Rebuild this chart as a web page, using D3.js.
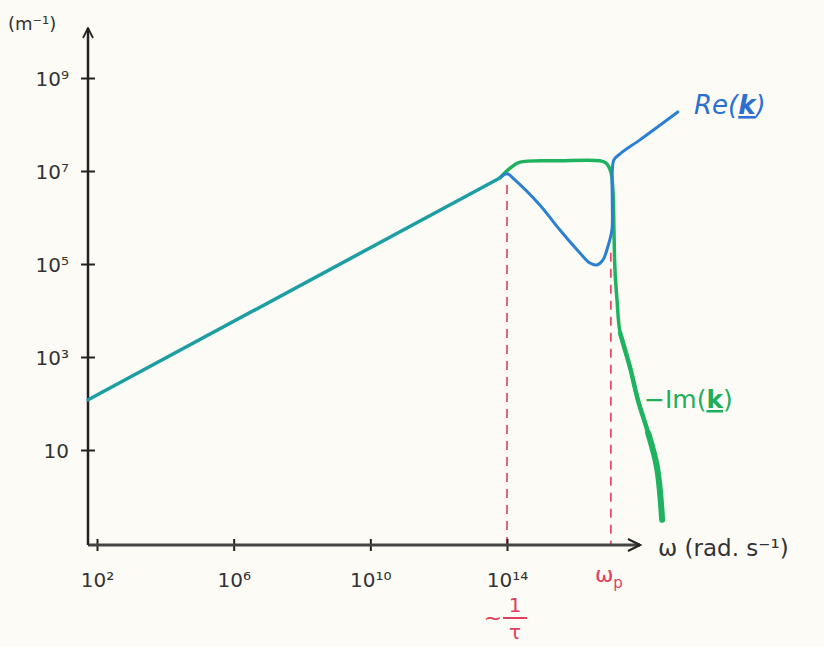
<!DOCTYPE html>
<html>
<head>
<meta charset="utf-8">
<script src="https://cdn.jsdelivr.net/npm/d3@7"></script>
<style>
  html, body { margin: 0; padding: 0; background: #fdfbf6; }
  svg { display: block; }
  text { font-family: "DejaVu Sans", sans-serif; }
</style>
</head>
<body>
<svg id="viz" width="824" height="647"></svg>
<script>
// Data: [log10(omega), log10(k)]

var shared = [[1.74, 2.08], [13.79, 6.85]];

var reK = [
	[13.79, 6.85], [14.0, 6.94], [14.23, 6.81], [14.96, 6.27], [15.55, 5.73],
	[16.13, 5.24], [16.43, 5.02], [16.63, 4.98], [16.81, 5.09], [16.95, 5.37],
	[17.07, 5.73], [17.08, 6.38], [17.08, 6.98], [17.13, 7.24], [17.31, 7.37],
	[17.89, 7.67], [19.0, 8.27]
];

var imK = [
	[13.79, 6.85], [14.09, 7.06], [14.38, 7.19], [15.55, 7.22], [16.72, 7.22],
	[16.90, 7.17], [17.04, 6.98], [17.10, 6.59], [17.13, 5.73], [17.16, 4.87],
	[17.22, 4.23], [17.31, 3.52], [17.60, 2.78], [17.83, 2.08], [18.13, 1.37],
	[18.39, 0.63], [18.54, -0.5]
];

var xTicks = [1e2, 1e6, 1e10, 1e14];
var yTicks = [1e1, 1e3, 1e5, 1e7, 1e9];

var tau = 1e14;                      // ~ 1/tau
var omegaP = Math.pow(10, 17.04);    // plasma frequency
var tauTop = 6.7, omegaPTop = 5.24;  // where the dashed guides start (log k)

var sup = {"0":"⁰","1":"¹","2":"²","3":"³","4":"⁴","5":"⁵","6":"⁶","7":"⁷","8":"⁸","9":"⁹"};
function powLabel(v) {
	var e = Math.round(Math.log10(v));
	if (e == 1) return "10";
	return "10" + String(e).split("").map(c => sup[c]).join("");
}

var svg = d3.select("#viz");

var x = d3.scaleLog().domain([1e2, 1e14]).range([97, 507]);
var y = d3.scaleLog().domain([1e1, 1e9]).range([450, 78]);

var x0 = 88, y0 = 545;        // axis corner
var xEnd = 640, yEnd = 28;    // arrow tips

var ink = "#222";
var red = "#e23d5c";
var green = "#1fb35f";

// Arrow marker

svg.append("defs").append("marker")
	.attr("id", "arrow")
	.attr("viewBox", "0 0 10 10")
	.attr("refX", 9).attr("refY", 5)
	.attr("markerWidth", 5).attr("markerHeight", 5)
	.attr("orient", "auto")
	.append("path")
	.attr("d", "M1,1 L9,5 L1,9")
	.attr("fill", "none")
	.attr("stroke", ink)
	.attr("stroke-width", 1.4);

// Dashed guides

svg.append("line")
	.attr("x1", x(tau)).attr("x2", x(tau))
	.attr("y1", y(Math.pow(10, tauTop))).attr("y2", y0)
	.attr("stroke", red).attr("stroke-width", 1.6)
	.attr("stroke-dasharray", "9,7");

svg.append("line")
	.attr("x1", x(omegaP)).attr("x2", x(omegaP))
	.attr("y1", y(Math.pow(10, omegaPTop))).attr("y2", y0)
	.attr("stroke", red).attr("stroke-width", 1.6)
	.attr("stroke-dasharray", "9,7");

// Axes

var xAxis = svg.append("g")
	.attr("transform", "translate(0," + (y0 + 6) + ")")
	.call(d3.axisBottom(x).tickValues(xTicks).tickSize(12).tickFormat(powLabel));

var yAxis = svg.append("g")
	.attr("transform", "translate(" + (x0 + 7) + ",0)")
	.call(d3.axisLeft(y).tickValues(yTicks).tickSize(14).tickFormat(powLabel));

[xAxis, yAxis].forEach(a => {
	a.select(".domain").remove();
	a.selectAll(".tick line").attr("stroke", ink).attr("stroke-width", 2);
	a.selectAll(".tick text")
		.attr("fill", "#333")
		.style("font-size", "20px");
});
xAxis.selectAll(".tick line").attr("transform", "translate(0,-12)");
xAxis.selectAll(".tick text").attr("y", 22).attr("dy", "0.71em");
yAxis.selectAll(".tick text").attr("x", -26).attr("dy", "0.35em");

svg.append("line")
	.attr("x1", x0).attr("y1", y0)
	.attr("x2", xEnd).attr("y2", y0)
	.attr("stroke", "#444").attr("stroke-width", 3)
	.attr("marker-end", "url(#arrow)");

svg.append("line")
	.attr("x1", x0).attr("y1", y0)
	.attr("x2", x0).attr("y2", yEnd)
	.attr("stroke", ink).attr("stroke-width", 2.5)
	.attr("marker-end", "url(#arrow)");

// Curves

var line = d3.line()
	.x(d => x(Math.pow(10, d[0])))
	.y(d => y(Math.pow(10, d[1])))
	.curve(d3.curveCatmullRom.alpha(0.5));

svg.append("path")
	.datum(imK)
	.attr("d", line)
	.attr("fill", "none")
	.attr("stroke", green)
	.attr("stroke-width", 3.5)
	.attr("stroke-linejoin", "round");

// the green stroke gets heavier towards its end
svg.append("path")
	.datum(imK.slice(-6))
	.attr("d", line)
	.attr("fill", "none")
	.attr("stroke", green)
	.attr("stroke-width", 4.5)
	.attr("stroke-linecap", "round");

svg.append("path")
	.datum(imK.slice(-3))
	.attr("d", line)
	.attr("fill", "none")
	.attr("stroke", green)
	.attr("stroke-width", 6)
	.attr("stroke-linecap", "round");

svg.append("path")
	.datum(reK)
	.attr("d", line)
	.attr("fill", "none")
	.attr("stroke", "#2b80d2")
	.attr("stroke-width", 3)
	.attr("stroke-linejoin", "round")
	.attr("stroke-linecap", "round");

svg.append("path")
	.datum(shared)
	.attr("d", line)
	.attr("fill", "none")
	.attr("stroke", "#1c9ea3")
	.attr("stroke-width", 3.5)
	.attr("stroke-linecap", "round");

// Labels

svg.append("text")
	.attr("x", 8).attr("y", 30)
	.attr("fill", "#333")
	.style("font-size", "18px")
	.text("(m⁻¹)");

svg.append("text")
	.attr("x", 658).attr("y", 556)
	.attr("fill", "#333")
	.style("font-size", "23px")
	.text("ω (rad. s⁻¹)");

var re = svg.append("text")
	.attr("x", 694).attr("y", 114)
	.attr("fill", "#2b6fd0")
	.style("font-size", "26px")
	.style("font-style", "italic");
re.append("tspan").text("Re(");
re.append("tspan").attr("text-decoration", "underline").style("font-weight", "bold").text("k");
re.append("tspan").text(")");

var im = svg.append("text")
	.attr("x", 644).attr("y", 408)
	.attr("fill", "#1fae5a")
	.style("font-size", "25px");
im.append("tspan").text("−Im(");
im.append("tspan").attr("text-decoration", "underline").style("font-weight", "bold").text("k");
im.append("tspan").text(")");

var wp = svg.append("text")
	.attr("x", x(omegaP) - 2).attr("y", 582)
	.attr("text-anchor", "middle")
	.attr("fill", red)
	.style("font-size", "22px");
wp.append("tspan").text("ω");
wp.append("tspan").attr("dy", 6).style("font-size", "15px").text("p");

// ~ 1/tau
var fx = x(tau) + 8;
svg.append("text")
	.attr("x", fx - 22).attr("y", 625)
	.attr("text-anchor", "middle")
	.attr("fill", red)
	.style("font-size", "22px")
	.text("~");
svg.append("text")
	.attr("x", fx).attr("y", 612)
	.attr("text-anchor", "middle")
	.attr("fill", red)
	.style("font-size", "20px")
	.text("1");
svg.append("line")
	.attr("x1", fx - 12).attr("x2", fx + 12)
	.attr("y1", 618).attr("y2", 618)
	.attr("stroke", red).attr("stroke-width", 2);
svg.append("text")
	.attr("x", fx).attr("y", 639)
	.attr("text-anchor", "middle")
	.attr("fill", red)
	.style("font-size", "20px")
	.text("τ");
</script>
</body>
</html>
